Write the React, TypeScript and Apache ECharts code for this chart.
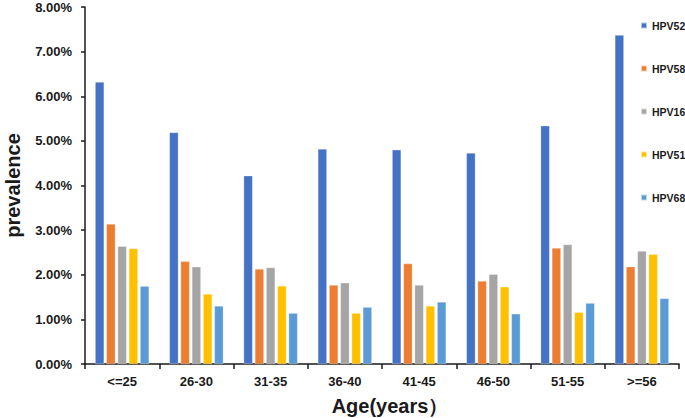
import React, { useEffect, useRef } from "react";
import * as echarts from "echarts";

const categories = ["<=25", "26-30", "31-35", "36-40", "41-45", "46-50", "51-55", ">=56"];
const hpv52 = [6.32, 5.19, 4.22, 4.82, 4.8, 4.73, 5.34, 7.37];
const hpv58 = [3.14, 2.3, 2.13, 1.77, 2.25, 1.86, 2.6, 2.18];
const hpv16 = [2.64, 2.18, 2.16, 1.82, 1.77, 2.01, 2.68, 2.53];
const hpv51 = [2.59, 1.57, 1.75, 1.14, 1.3, 1.73, 1.16, 2.46];
const hpv68 = [1.745, 1.3, 1.14, 1.275, 1.39, 1.125, 1.365, 1.47];

const seriesNames = ["HPV52", "HPV58", "HPV16", "HPV51", "HPV68"];
const seriesData = [hpv52, hpv58, hpv16, hpv51, hpv68];
const colors = ["#4472C4", "#ED7D31", "#A5A5A5", "#FFC000", "#5B9BD5"];

const FONT = "'Liberation Sans', Arial, sans-serif";
const TEXT = "#1a1a1a";

export default function App() {
  const ref = useRef<HTMLDivElement>(null);
  useEffect(() => {
    if (!ref.current) return;
    const chart = echarts.init(ref.current, undefined, { renderer: "svg" });
    chart.setOption({
      animation: false,
      backgroundColor: "#ffffff",
      grid: { left: 85, right: 6, top: 7, bottom: 54, containLabel: false, outerBoundsMode: "none" },
      legend: {
        orient: "vertical",
        left: 640,
        top: 20,
        padding: 0,
        itemWidth: 6,
        itemHeight: 6,
        itemGap: 32,
        icon: "rect",
        textStyle: { fontFamily: FONT, fontWeight: "bold", fontSize: 10.5, color: TEXT },
        data: seriesNames,
      },
      xAxis: {
        type: "category",
        data: categories,
        name: "Age(years）",
        nameLocation: "middle",
        nameGap: 32,
        nameTextStyle: { fontFamily: FONT, fontWeight: "bold", fontSize: 20, color: TEXT, padding: [0, 0, 0, 16] },
        axisLine: { lineStyle: { color: "#1a1a1a", width: 1.5 } },
        axisTick: { show: true, length: 5, alignWithLabel: false, lineStyle: { color: "#1a1a1a", width: 1.5 } },
        axisLabel: { fontFamily: FONT, fontWeight: "bold", fontSize: 13, color: TEXT, margin: 11 },
      },
      yAxis: {
        type: "value",
        min: 0,
        max: 8,
        interval: 1,
        name: "prevalence",
        nameLocation: "middle",
        nameGap: 62,
        nameTextStyle: { fontFamily: FONT, fontWeight: "bold", fontSize: 20, color: TEXT },
        axisLine: { show: true, lineStyle: { color: "#1a1a1a", width: 1.5 } },
        axisTick: { show: true, length: 4, lineStyle: { color: "#1a1a1a", width: 1.5 } },
        splitLine: { show: false },
        axisLabel: {
          fontFamily: FONT,
          fontWeight: "bold",
          fontSize: 13,
          color: TEXT,
          margin: 13,
          formatter: (v: number) => v.toFixed(2) + "%",
        },
      },
      series: seriesNames.map((name, i) => ({
        name,
        type: "bar",
        data: seriesData[i],
        barWidth: 9,
        barGap: "25%",
        itemStyle: { color: colors[i], borderColor: "rgba(255,255,255,0.6)", borderWidth: 0.5 },
      })),
    });
    return () => chart.dispose();
  }, []);
  return (
    <div
      ref={ref}
      style={{ position: "fixed", left: 0, top: 0, width: 685, height: 418, background: "#fff" }}
    />
  );
}
